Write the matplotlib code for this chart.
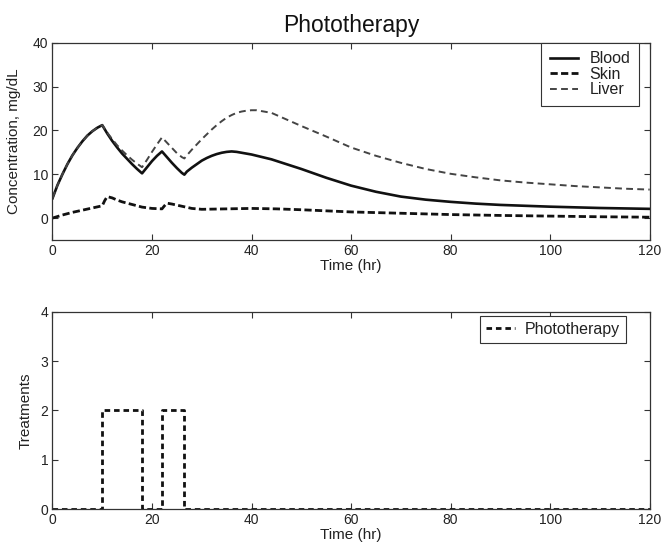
import matplotlib
matplotlib.use("Agg")
import matplotlib.pyplot as plt

plt.rcParams['font.family'] = ['Liberation Sans', 'DejaVu Sans']

# ---- data ----
blood_t = [0, 1, 2, 3, 4, 5, 6, 7, 8, 9, 10,
           11, 12, 13, 14, 15, 16, 17, 18,
           19, 20, 21, 22,
           23, 24, 25, 26, 26.5,
           27, 28, 29, 30, 31, 32, 33, 34, 35, 36, 37, 38, 40,
           44, 50, 55, 60, 65, 70, 75, 80, 85, 90, 95, 100, 110, 120]
blood_v = [4.5, 7.5, 10.0, 12.3, 14.3, 16.0, 17.5, 18.8, 19.8, 20.6, 21.2,
           19.3, 17.6, 16.1, 14.7, 13.5, 12.3, 11.2, 10.2,
           11.6, 13.0, 14.2, 15.2,
           13.9, 12.6, 11.4, 10.3, 9.9,
           10.6, 11.5, 12.3, 13.1, 13.7, 14.2, 14.6, 14.9, 15.1, 15.2, 15.1, 14.9, 14.5,
           13.4, 11.2, 9.2, 7.4, 6.0, 4.9, 4.2, 3.7, 3.3, 3.0, 2.8, 2.6, 2.3, 2.1]

skin_t = [0, 2, 4, 6, 8, 10, 10.5, 11, 12, 13, 14, 16, 18, 20, 22,
          22.5, 23, 24, 26, 28, 30, 35, 40, 45, 50, 60, 70, 80, 90, 100, 110, 120]
skin_v = [0.0, 0.7, 1.3, 1.8, 2.3, 2.8, 4.0, 4.9, 4.6, 4.1, 3.7, 3.1, 2.5, 2.2, 2.1,
          2.8, 3.4, 3.2, 2.7, 2.2, 2.0, 2.1, 2.2, 2.1, 1.9, 1.4, 1.1, 0.8, 0.6, 0.45, 0.3, 0.2]

liver_t = [0, 1, 2, 3, 4, 5, 6, 7, 8, 9, 10,
           11, 12, 13, 14, 15, 16, 17, 18,
           19, 20, 21, 22,
           23, 24, 25, 26, 26.5,
           27, 28, 29, 30, 31, 32, 33, 34, 35, 36, 37, 38, 39, 40, 41, 42, 44, 46, 48, 50,
           55, 60, 65, 70, 75, 80, 85, 90, 95, 100, 105, 110, 115, 120]
liver_v = [4.5, 7.5, 10.0, 12.3, 14.3, 16.0, 17.5, 18.8, 19.8, 20.6, 21.2,
           19.5, 18.0, 16.6, 15.4, 14.3, 13.3, 12.4, 11.6,
           13.3, 15.1, 16.8, 18.4,
           17.2, 16.0, 14.8, 13.9, 13.6,
           14.3, 15.6, 16.8, 18.0, 19.1, 20.2, 21.2, 22.1, 22.9, 23.5, 24.0, 24.3, 24.5, 24.6, 24.6, 24.4, 24.0, 23.0, 22.0, 21.0,
           18.6, 16.1, 14.2, 12.6, 11.2, 10.1, 9.3, 8.6, 8.1, 7.7, 7.3, 7.0, 6.7, 6.5]

photo_t = [0, 10, 18, 22, 26.5, 120]
photo_level = [0, 2, 0, 2, 0, 0]

x_ticks = [0, 20, 40, 60, 80, 100, 120]
top_yticks = [0, 10, 20, 30, 40]
bot_yticks = [0, 1, 2, 3, 4]

# ---- figure ----
fig = plt.figure(figsize=(6.66, 5.54), dpi=100)
ax1 = fig.add_axes([0.0788, 0.5668, 0.8967, 0.3561])
ax2 = fig.add_axes([0.0788, 0.0812, 0.8967, 0.3561])

TXT = '#222222'

def style(ax):
    ax.tick_params(direction='in', top=True, right=True, length=4.3, width=0.8,
                   labelsize=10, colors='#333333', labelcolor=TXT, pad=3)
    for s in ax.spines.values():
        s.set_linewidth(0.9)
        s.set_color('#333333')
    ax.set_xlim(0, 120)
    ax.set_xticks(x_ticks)

ax1.plot(blood_t, blood_v, color='#111111', lw=1.9, ls='-', label='Blood')
ax1.plot(skin_t, skin_v, color='#111111', lw=2.0, ls=(0, (2.6, 1.2)), label='Skin')
ax1.plot(liver_t, liver_v, color='#444444', lw=1.4, ls=(0, (3.5, 2.2)), label='Liver')
style(ax1)
ax1.set_ylim(-5, 40)
ax1.set_yticks(top_yticks)
ax1.set_xlabel('Time (hr)', fontsize=11, labelpad=0.5, color=TXT)
ax1.set_ylabel('Concentration, mg/dL', fontsize=11, color=TXT)
ax1.yaxis.set_label_coords(-0.052, 0.5)
ax1.set_title('Phototherapy', fontsize=16.5, pad=8, color='#111111')
leg1 = ax1.legend(loc='upper right', bbox_to_anchor=(0.982, 1.0), borderaxespad=0,
                  fontsize=11.5, frameon=True, fancybox=False,
                  edgecolor='#333333', framealpha=1,
                  handlelength=1.75, handletextpad=0.7, labelspacing=0.02,
                  borderpad=0.55)
leg1.set_zorder(10)
leg1.get_frame().set_linewidth(0.8)
for t in leg1.get_texts():
    t.set_color(TXT)

ax2.plot(photo_t, photo_level, drawstyle='steps-post', color='#111111', lw=2.0,
         ls=(0, (2.0, 1.4)), label='Phototherapy')
style(ax2)
ax2.set_ylim(0, 4)
ax2.set_yticks(bot_yticks)
ax2.set_xlabel('Time (hr)', fontsize=11, labelpad=0.5, color=TXT)
ax2.set_ylabel('Treatments', fontsize=11, color=TXT)
ax2.yaxis.set_label_coords(-0.0325, 0.5)
leg2 = ax2.legend(loc='upper right', bbox_to_anchor=(0.960, 0.98), borderaxespad=0,
                  fontsize=11.5, frameon=True, fancybox=False,
                  edgecolor='#333333', framealpha=1,
                  handlelength=1.8, handletextpad=0.6, borderpad=0.38)
leg2.set_zorder(10)
leg2.get_frame().set_linewidth(0.8)
for t in leg2.get_texts():
    t.set_color(TXT)

fig.savefig('out.png', dpi=100)
